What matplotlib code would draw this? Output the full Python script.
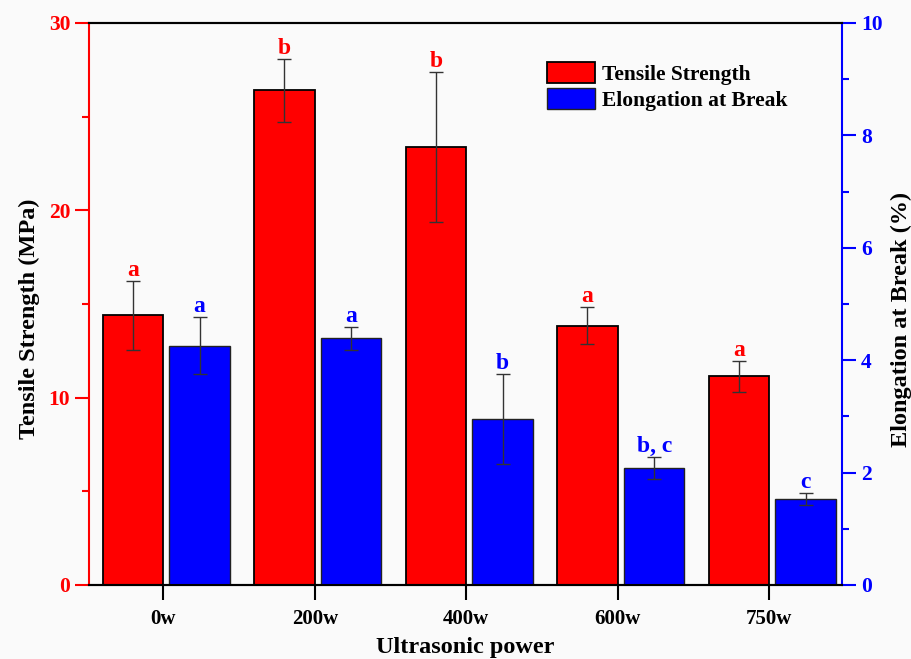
import numpy as np
import matplotlib
matplotlib.use('Agg')
import matplotlib.pyplot as plt
from matplotlib.ticker import MultipleLocator

plt.rcParams['font.family'] = 'Liberation Serif'
plt.rcParams['font.weight'] = 'bold'

powers = ['0w', '200w', '400w', '600w', '750w']
tensile = [14.4, 26.4, 23.4, 13.85, 11.15]
tensile_err = [1.85, 1.7, 4.0, 1.0, 0.83]
tensile_letters = ['a', 'b', 'b', 'a', 'a']
elongation = [4.26, 4.39, 2.96, 2.08, 1.53]
elongation_err = [0.5, 0.2, 0.8, 0.2, 0.1]
elongation_letters = ['a', 'a', 'b', 'b, c', 'c']

red = '#ff0000'
blue = '#0000ff'

fig = plt.figure(figsize=(9.11, 6.59), dpi=100, facecolor='#fafafa')
ax1 = fig.add_axes([0.0977, 0.1123, 0.8266, 0.8528])
ax1.set_facecolor('#fafafa')
ax2 = ax1.twinx()

x = np.arange(len(powers))
w = 0.4

ax1.bar(x - 0.2, tensile, w, color=red, edgecolor='black', linewidth=1.3,
        label='Tensile Strength')
ax1.errorbar(x - 0.2, tensile, yerr=tensile_err, fmt='none', ecolor='#333333',
             elinewidth=1.0, capsize=5, capthick=1.0)
for xi, v, e, t in zip(x, tensile, tensile_err, tensile_letters):
    ax1.annotate(t, (xi - 0.2, v + e), xytext=(0, 0), textcoords='offset points',
                 ha='center', va='bottom', color=red, fontsize=17, fontweight='bold')

ax2.bar(x + 0.24, elongation, w, color=blue, edgecolor='#222222', linewidth=1.0,
        label='Elongation at Break')
ax2.errorbar(x + 0.24, elongation, yerr=elongation_err, fmt='none', ecolor='#333333',
             elinewidth=1.0, capsize=5, capthick=1.0)
for xi, v, e, t in zip(x, elongation, elongation_err, elongation_letters):
    ax2.annotate(t, (xi + 0.24, v + e), xytext=(0, 0), textcoords='offset points',
                 ha='center', va='bottom', color=blue, fontsize=17, fontweight='bold')

ax1.set_xlim(-0.49, 4.48)
ax1.set_ylim(0, 30)
ax2.set_ylim(0, 10)

ax1.set_xticks(x)
ax1.set_xticklabels(powers, fontsize=15, fontweight='bold')
ax1.tick_params(axis='x', direction='out', length=11, width=1.5, color='black', pad=6)

ax1.yaxis.set_major_locator(MultipleLocator(10))
ax1.yaxis.set_minor_locator(MultipleLocator(5))
ax1.tick_params(axis='y', which='major', direction='out', length=10, width=1.5,
                colors=red, labelsize=15.5)
ax1.tick_params(axis='y', which='minor', direction='out', length=5, width=1.5, colors=red)
for lbl in ax1.get_yticklabels():
    lbl.set_fontweight('bold')

ax2.yaxis.set_major_locator(MultipleLocator(2))
ax2.yaxis.set_minor_locator(MultipleLocator(1))
ax2.tick_params(axis='y', which='major', direction='out', length=10, width=1.5,
                colors=blue, labelsize=15.5)
ax2.tick_params(axis='y', which='minor', direction='out', length=5, width=1.5, colors=blue)
for lbl in ax2.get_yticklabels():
    lbl.set_fontweight('bold')

for sp in ['top', 'bottom']:
    ax1.spines[sp].set_linewidth(1.5)
    ax2.spines[sp].set_linewidth(1.5)
ax1.spines['left'].set_color(red)
ax1.spines['left'].set_linewidth(1.5)
ax2.spines['left'].set_visible(False)
ax2.spines['right'].set_color(blue)
ax2.spines['right'].set_linewidth(1.5)
ax1.spines['right'].set_visible(False)

ax1.set_ylabel('Tensile Strength (MPa)', fontsize=17.5, fontweight='bold', labelpad=6)
ax2.set_ylabel('Elongation at Break (%)', fontsize=17.5, fontweight='bold',
               rotation=90, labelpad=6)
# both side titles sit a little below the axis middle
ax1.yaxis.label.set_y(0.473)
ax2.yaxis.label.set_y(0.473)
ax1.set_xlabel('Ultrasonic power', fontsize=17.5, fontweight='bold', labelpad=6)

h1, l1 = ax1.get_legend_handles_labels()
h2, l2 = ax2.get_legend_handles_labels()
ax2.legend(h1 + h2, l1 + l2, loc='upper left', bbox_to_anchor=(0.6004, 0.906),
           bbox_transform=fig.transFigure, frameon=False, fontsize=15.5,
           handlelength=2.23, handleheight=1.15, handletextpad=0.33,
           labelspacing=0.14, borderpad=0, borderaxespad=0)

fig.savefig('out.png', dpi=100, facecolor=fig.get_facecolor())
